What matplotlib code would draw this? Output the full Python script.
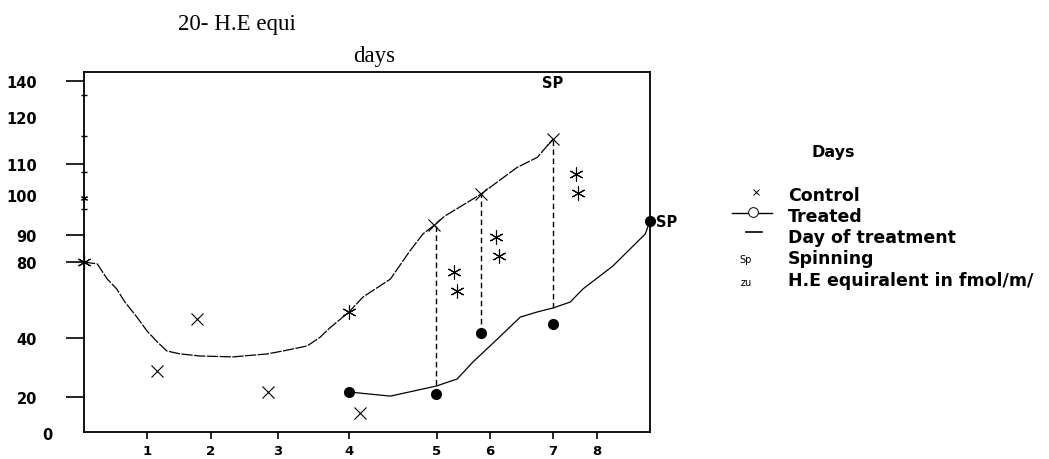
import numpy as np
import matplotlib
matplotlib.use("Agg")
import matplotlib.pyplot as plt
from matplotlib.lines import Line2D

# ---- data (days, H.E equivalent) ----
control_x_days = [1.16, 1.78, 2.85, 4.125, 4.97, 5.83, 7.0]
control_x_vals = [28.8, 50.0, 21.7, 11.6, 92.5, 100.3, 115.3]

control_star_days = [0.0, 4.0, 5.32, 5.38, 6.10, 6.14, 7.52, 7.57]
control_star_vals = [80.0, 53.7, 74.7, 64.7, 89.3, 82.2, 106.8, 100.6]

# tiny asterisk sitting on the y axis
small_star_days = [0.0]
small_star_vals = [99.3]

treated_days = [4.0, 4.99, 5.83, 7.0, 9.0]
treated_vals = [21.7, 21.0, 42.6, 47.4, 93.5]

control_curve_days = [0.0, 0.21, 0.37, 0.52, 0.65, 0.84, 1.0, 1.16, 1.31, 1.52, 1.83,
                      2.33, 2.84, 3.07, 3.41, 3.59, 3.73, 4.0, 4.16, 4.47, 4.69,
                      4.84, 4.97, 5.15, 5.43, 5.83, 6.05, 6.43, 6.75, 7.0]
control_curve_vals = [80.0, 79.0, 71.0, 65.8, 58.9, 51.0, 43.7, 38.7, 35.6, 34.6, 33.9,
                      33.6, 34.6, 35.6, 37.3, 40.3, 45.3, 53.7, 61.6, 71.0, 84.0,
                      90.25, 92.5, 94.75, 97.0, 100.3, 103.2, 108.9, 111.4, 115.3]

treated_curve_days = [4.0, 4.47, 4.99, 5.38, 5.68, 6.11, 6.48, 6.75, 7.0, 7.39,
                      7.68, 8.3, 8.68, 8.91, 9.0]
treated_curve_vals = [21.7, 20.3, 23.7, 26.1, 31.9, 39.5, 51.0, 53.7, 55.8, 58.9,
                      65.8, 77.9, 85.9, 90.25, 93.5]

# day of treatment (dashed drops)
treat_days = [4.99, 5.83, 7.0]
treat_top = [92.5, 100.3, 115.3]
treat_bottom = [21.0, 42.6, 55.8]

x_ticks = [1, 2, 3, 4, 5, 6, 7, 8]
y_ticks = [20, 40, 80, 90, 100, 110, 120, 140]
y_minor = [96.5, 107.4, 116.0, 132.2]

# the original axes are not evenly spaced: piecewise scales
day_levels = [-1, 0, 1, 2, 3, 4, 5, 6, 7, 8, 9, 10]
day_pos = [21, 84, 147, 211, 278, 349, 437, 490, 553, 597, 650, 703]
val_levels = [-10, 0, 20, 40, 80, 90, 100, 110, 120, 140, 150]
val_pos = [-455, -436, -398, -339, -263, -236, -196, -165, -118, -82, -64]


def x_fwd(v):
    return np.interp(v, day_levels, day_pos)


def x_inv(p):
    return np.interp(p, day_pos, day_levels)


def y_fwd(v):
    return np.interp(v, val_levels, val_pos)


def y_inv(p):
    return np.interp(p, val_pos, val_levels)


W, H = 1049, 460
fig = plt.figure(figsize=(W / 100, H / 100), dpi=100)
ax = fig.add_axes([84 / W, 1 - 433 / H, (650 - 84) / W, (433 - 73) / H])
ax.set_xscale("function", functions=(x_fwd, x_inv))
ax.set_yscale("function", functions=(y_fwd, y_inv))
ax.set_xlim(0, 9)
ax.set_ylim(y_inv(-433), y_inv(-73))

for s in ax.spines.values():
    s.set_linewidth(1.3)

# curves
ax.plot(control_curve_days, control_curve_vals, color="black", lw=0.9,
        dashes=(9, 1.2))
ax.plot(treated_curve_days, treated_curve_vals, color="black", lw=0.9)

# dashed drop lines
ax.vlines(treat_days, treat_bottom, treat_top, colors="black", lw=1.0,
          linestyles=(0, (4, 2.5)))

# markers
ax.plot(control_x_days, control_x_vals, ls="none", marker="x", ms=8,
        mew=0.8, color="black")
ax.plot(control_star_days, control_star_vals, ls="none", marker=(6, 2, 0),
        ms=10, mew=0.8, color="black", clip_on=False)
ax.plot(small_star_days, small_star_vals, ls="none", marker=(6, 2, 0),
        ms=5, mew=0.8, color="black", clip_on=False)
ax.plot(treated_days, treated_vals, ls="none", marker="o", ms=7,
        color="black", clip_on=False)

# annotations
ax.text(7.0, 139, "SP", ha="center", va="center", fontsize=10.5,
        fontweight="bold", family="DejaVu Sans")
ax.text(9.12, treated_vals[-1], "SP", ha="left", va="center", fontsize=10.5,
        fontweight="bold", family="DejaVu Sans", clip_on=False)

# ticks
ax.set_xticks(x_ticks)
ax.set_xticklabels([str(t) for t in x_ticks], fontweight="bold", fontsize=9.5,
                   family="DejaVu Sans")
ax.tick_params(axis="x", direction="out", length=5, width=1.2, pad=4)
ax.set_yticks(y_ticks)
ax.set_yticklabels([str(t) for t in y_ticks], fontweight="bold", fontsize=10.5,
                   family="DejaVu Sans")
ax.tick_params(axis="y", direction="out", length=13, width=1.2, pad=21)
ax.set_yticks(y_minor, minor=True)
ax.tick_params(axis="y", which="minor", direction="inout", length=4, width=1)
ax.xaxis.set_minor_locator(matplotlib.ticker.NullLocator())
for t, v in zip(ax.yaxis.get_major_ticks(), y_ticks):
    if v in (100, 120):
        t.tick1line.set_visible(False)
ax.text(-0.5, 0, "0", transform=ax.transData, ha="right", va="center",
        fontweight="bold", fontsize=10.5, family="DejaVu Sans", clip_on=False)

# header texts
fig.text(178 / W, 1 - 30 / H, "20- H.E equi", ha="left", va="baseline",
         family="Liberation Serif", fontsize=16.5)
fig.text(353 / W, 1 - 62 / H, "days", ha="left", va="baseline",
         family="Liberation Serif", fontsize=16.5)

# legend drawn by hand
lg = fig.add_axes([0, 0, 1, 1], zorder=-1)
lg.set_xlim(0, W)
lg.set_ylim(H, 0)
lg.axis("off")
lg.text(833, 153, "Days", ha="center", va="center", fontsize=11.5,
        fontweight="bold", family="DejaVu Sans")
rows = [196, 217, 238, 259, 281]
labels = ["Control", "Treated", "Day of treatment", "Spinning",
          "H.E equiralent in fmol/m/"]
for y, lab in zip(rows, labels):
    lg.text(788, y, lab, ha="left", va="center", fontsize=12.5,
            fontweight="bold", family="DejaVu Sans")
lg.plot([756], [rows[0] - 3], marker="x", ms=5, mew=0.7, color="black")
lg.add_line(Line2D([732, 772], [rows[1] - 3, rows[1] - 3], color="black", lw=1))
lg.plot([753], [rows[1] - 4], marker="o", ms=7, mfc="white", mec="black",
        mew=0.7, ls="none")
lg.add_line(Line2D([746, 762], [rows[2] - 5, rows[2] - 5], color="black", lw=1.2))
lg.text(746, rows[3] + 1, "Sp", ha="center", va="center", fontsize=7,
        family="DejaVu Sans")
lg.text(746, rows[4] + 2, "zu", ha="center", va="center", fontsize=7,
        family="DejaVu Sans")

fig.savefig("out.png", dpi=100)
